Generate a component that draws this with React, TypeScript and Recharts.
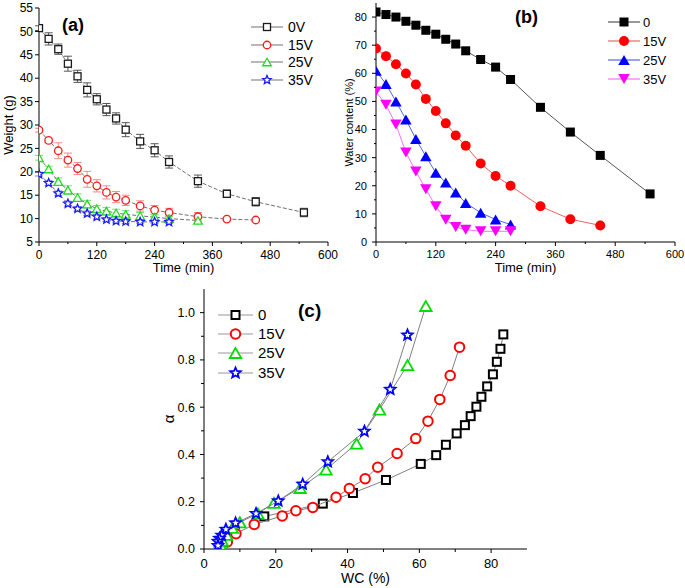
import React from 'react';
import { ScatterChart, Scatter, XAxis, YAxis, ErrorBar, Legend } from 'recharts';

const FONT = '"Liberation Sans", Arial, Helvetica, sans-serif';

// sampling times (min)
const time0V = [0, 20, 40, 60, 80, 100, 120, 140, 160, 180, 210, 240, 270, 330, 390, 450, 550];
const time15V = [0, 20, 40, 60, 80, 100, 120, 140, 160, 180, 210, 240, 270, 330, 390, 450];
const time25V = [0, 20, 40, 60, 80, 100, 120, 140, 160, 180, 210, 240, 270, 330];
const timeShort = [0, 20, 40, 60, 80, 100, 120, 140, 160, 180, 210, 240, 270];

// (a) weight (g) with error bars
const weight0V = [50.7, 48.4, 46.2, 43.1, 40.4, 37.5, 35.5, 33.3, 31.4, 29.0, 26.5, 24.6, 22.1, 18.0, 15.3, 13.6, 11.3];
const err0V = [0.5, 1.3, 1.1, 1.6, 1.3, 1.5, 1.2, 1.3, 1.2, 1.5, 1.5, 1.4, 1.3, 1.3, 0.8, 0.9, 0.9];
const weight15V = [28.9, 26.7, 24.5, 22.5, 20.7, 18.4, 17.0, 15.6, 14.6, 13.9, 12.7, 11.8, 11.3, 10.4, 9.9, 9.7];
const err15V = [0.4, 0.5, 1.7, 1.5, 1.3, 1.7, 1.3, 1.4, 1.2, 1.1, 1.1, 1.0, 0.9, 0.9, 0.3, 0.3];
const weight25V = [23.0, 20.6, 17.9, 16.1, 14.5, 13.1, 12.1, 11.6, 11.2, 10.9, 10.6, 10.3, 10.0, 9.6];
const err25V = [0.5, 0.6, 0.8, 0.9, 0.8, 0.8, 0.7, 0.8, 0.8, 0.8, 0.7, 0.6, 0.5, 0.4];
const weight35V = [19.5, 17.6, 15.4, 13.2, 12.1, 11.1, 10.4, 9.8, 9.5, 9.4, 9.3, 9.3, 9.3];
const err35V = [0.4, 0.5, 0.5, 0.5, 0.5, 0.5, 0.5, 0.4, 0.4, 0.4, 0.3, 0.3, 0.3];

// (b) water content (%)
const wc0 = [81.8, 80.9, 80.0, 78.5, 77.1, 75.3, 73.9, 72.1, 70.4, 68.0, 64.9, 62.2, 57.8, 47.9, 39.1, 30.8, 17.1];
const wc15V = [68.8, 66.1, 63.2, 59.9, 56.0, 50.9, 46.6, 42.2, 37.9, 34.2, 27.9, 23.5, 20.0, 12.7, 8.1, 5.9];
const wc25V = [60.9, 56.2, 50.0, 43.6, 36.6, 30.5, 24.6, 21.2, 17.6, 13.9, 10.4, 8.0, 6.2];
const wc35V = [53.5, 48.8, 41.8, 31.8, 25.1, 18.8, 12.7, 7.9, 5.3, 4.4, 3.8, 3.8, 3.8];

// (c) alpha vs WC (%)
const cWc0 = [83.4, 82.6, 81.6, 80.5, 78.9, 77.3, 75.9, 74.3, 72.7, 70.4, 67.4, 64.7, 60.4, 50.7, 41.5, 33.1, 16.8];
const cAlpha0 = [0.908, 0.847, 0.792, 0.739, 0.688, 0.644, 0.602, 0.562, 0.524, 0.489, 0.441, 0.397, 0.36, 0.292, 0.237, 0.192, 0.138];
const cWc15V = [71.2, 68.6, 65.7, 62.4, 59.0, 53.8, 48.4, 44.9, 40.5, 36.8, 30.3, 25.6, 21.8, 14.0, 8.9, 6.5];
const cAlpha15V = [0.854, 0.734, 0.633, 0.541, 0.467, 0.404, 0.346, 0.297, 0.256, 0.219, 0.176, 0.162, 0.14, 0.104, 0.065, 0.03];
const cWc25V = [61.8, 56.7, 48.9, 42.5, 34.0, 26.8, 19.5, 15.0, 10.0, 7.9, 6.3, 5.1, 4.5];
const cAlpha25V = [1.028, 0.778, 0.59, 0.446, 0.336, 0.258, 0.195, 0.15, 0.113, 0.089, 0.06, 0.035, 0.018];
const cWc35V = [56.7, 51.9, 44.7, 34.5, 27.5, 20.7, 14.5, 8.8, 6.1, 4.9, 4.3, 3.9, 3.9];
const cAlpha35V = [0.905, 0.675, 0.498, 0.369, 0.274, 0.203, 0.15, 0.11, 0.083, 0.058, 0.045, 0.032, 0.014];

// ticks
const timeMajor = [0, 120, 240, 360, 480, 600];
const timeMinor = [60, 180, 300, 420, 540];
const weightMajor = [5, 10, 15, 20, 25, 30, 35, 40, 45, 50, 55];
const wcMajor = [0, 10, 20, 30, 40, 50, 60, 70, 80];
const wcMinor = [5, 15, 25, 35, 45, 55, 65, 75];
const cXMajor = [0, 20, 40, 60, 80];
const cXMinor = [10, 30, 50, 70];
const alphaMajor = [0, 0.2, 0.4, 0.6, 0.8, 1.0];
const alphaMinor = [0.1, 0.3, 0.5, 0.7, 0.9];

const zip = (xs: number[], ys: number[], es?: number[]) =>
  xs.map((x, i) => ({ x, y: ys[i], err: es ? es[i] : 0 }));

type Kind = 'square' | 'circle' | 'up' | 'down' | 'star';

function Marker({ cx, cy, kind, size, stroke, fill, sw }: any) {
  const h = size / 2;
  const common = { stroke, fill, strokeWidth: sw };
  if (kind === 'square') return <rect x={cx - h} y={cy - h} width={size} height={size} {...common} />;
  if (kind === 'circle') return <circle cx={cx} cy={cy} r={h} {...common} />;
  if (kind === 'up' || kind === 'down') {
    const w = size * 1.15;
    const s = kind === 'up' ? 1 : -1;
    const pts = `${cx},${cy - s * h} ${cx - w / 2},${cy + s * h} ${cx + w / 2},${cy + s * h}`;
    return <polygon points={pts} {...common} strokeLinejoin="miter" />;
  }
  const pts: string[] = [];
  for (let i = 0; i < 10; i++) {
    const r = i % 2 === 0 ? h : h * 0.45;
    const a = -Math.PI / 2 + (i * Math.PI) / 5;
    pts.push(`${cx + r * Math.cos(a)},${cy + r * Math.sin(a)}`);
  }
  return <polygon points={pts.join(' ')} {...common} />;
}

type Side = 'bottom' | 'left' | 'top' | 'right';
const isIn = (arr: number[], v: number) => arr.some((m) => Math.abs(m - v) < 1e-6);

function makeTick(side: Side, major: number[], o: any = {}) {
  const { len = 4, minorLen = 2, gap = 2, size = 12, fmt = (v: number) => String(v) } = o;
  return (props: any) => {
    const { x, y, payload } = props;
    const v = Number(payload.value);
    const big = isIn(major, v);
    const l = big ? len : minorLen;
    const ls = { stroke: '#000', strokeWidth: 1 };
    const ts = { fill: '#000', fontSize: size, fontFamily: FONT };
    if (side === 'bottom') {
      return (
        <g>
          <line x1={x} y1={y} x2={x} y2={y + l} {...ls} />
          {big && (
            <text x={x} y={y + len + gap} dy="0.71em" textAnchor="middle" {...ts}>
              {fmt(v)}
            </text>
          )}
        </g>
      );
    }
    if (side === 'left') {
      return (
        <g>
          <line x1={x} y1={y} x2={x - l} y2={y} {...ls} />
          {big && (
            <text x={x - len - gap} y={y} dy="0.355em" textAnchor="end" {...ts}>
              {fmt(v)}
            </text>
          )}
        </g>
      );
    }
    if (side === 'top') return <line x1={x} y1={y} x2={x} y2={y + l} {...ls} />;
    return <line x1={x} y1={y} x2={x - l} y2={y} {...ls} />;
  };
}

const xTitle = (text: string, baseline: number, size: number) => (props: any) => {
  const vb = props.viewBox;
  return (
    <text x={vb.x + vb.width / 2} y={vb.y + baseline} textAnchor="middle" fontSize={size} fontFamily={FONT} fill="#000">
      {text}
    </text>
  );
};

const yTitle = (text: string, dx: number, size: number, dy = 0) => (props: any) => {
  const vb = props.viewBox;
  const cx = vb.x + dx;
  const cy = vb.y + vb.height / 2 + dy;
  return (
    <text x={cx} y={cy} dy="0.355em" transform={`rotate(-90 ${cx} ${cy})`} textAnchor="middle" fontSize={size} fontFamily={FONT} fill="#000">
      {text}
    </text>
  );
};

function frameAxes(xDom: number[], xMaj: number[], xMin: number[], yDom: number[], yMaj: number[], yMin: number[], mLen: number) {
  return [
    <XAxis
      key="top"
      xAxisId="top"
      orientation="top"
      type="number"
      domain={xDom}
      ticks={[...xMaj, ...xMin]}
      interval={0}
      allowDataOverflow
      height={0}
      tickSize={0}
      tickMargin={0}
      tickLine={false}
      axisLine={{ stroke: '#000' }}
      tick={makeTick('top', xMaj, { minorLen: mLen })}
    />,
    <YAxis
      key="right"
      yAxisId="right"
      orientation="right"
      type="number"
      domain={yDom}
      ticks={[...yMaj, ...yMin]}
      interval={0}
      allowDataOverflow
      width={0}
      tickSize={0}
      tickMargin={0}
      tickLine={false}
      axisLine={{ stroke: '#000' }}
      tick={makeTick('right', yMaj, { minorLen: mLen })}
    />,
  ];
}

type Item = { name: string; kind: Kind; color: string; fill: string; size: number; sw: number; line: string };

function Overlay({ w, h, tag, tagX, tagY, tagSize, items, rows, x1, x2, textX, fontSize, lineW }: any) {
  const cx = (x1 + x2) / 2;
  return (
    <svg width={w} height={h} style={{ display: 'block' }}>
      <text x={tagX} y={tagY} fontSize={tagSize} fontWeight="bold" fontFamily={FONT} fill="#000">
        {tag}
      </text>
      {items.map((it: Item, i: number) => (
        <g key={it.name}>
          <line x1={x1} y1={rows[i]} x2={x2} y2={rows[i]} stroke={it.line} strokeWidth={lineW} />
          <Marker cx={cx} cy={rows[i]} kind={it.kind} size={it.size} stroke={it.color} fill={it.fill} sw={it.sw} />
          <text x={textX} y={rows[i]} dy="0.355em" fontSize={fontSize} fontFamily={FONT} fill="#000">
            {it.name}
          </text>
        </g>
      ))}
    </svg>
  );
}

const seriesA = [
  { name: '0V', kind: 'square' as Kind, color: '#1a1a1a', fill: '#fff', size: 7, sw: 1.3, line: '#888', err: '#555', data: zip(time0V, weight0V, err0V) },
  { name: '15V', kind: 'circle' as Kind, color: '#ff1a1a', fill: '#fff', size: 7.5, sw: 1.3, line: '#888', err: '#f48a8a', data: zip(time15V, weight15V, err15V) },
  { name: '25V', kind: 'up' as Kind, color: '#1fdc1f', fill: '#fff', size: 7.5, sw: 1.3, line: '#888', err: '#77e077', data: zip(time25V, weight25V, err25V) },
  { name: '35V', kind: 'star' as Kind, color: '#1a1aff', fill: '#fff', size: 9, sw: 1.3, line: '#888', err: '#7a7aff', data: zip(timeShort, weight35V, err35V) },
];

const seriesB = [
  { name: '0', kind: 'square' as Kind, color: '#000', fill: '#000', size: 9, sw: 0, line: '#555', data: zip(time0V, wc0) },
  { name: '15V', kind: 'circle' as Kind, color: '#ff0000', fill: '#ff0000', size: 10, sw: 0, line: '#f06060', data: zip(time15V, wc15V) },
  { name: '25V', kind: 'up' as Kind, color: '#0000ff', fill: '#0000ff', size: 10, sw: 0, line: '#5566ee', data: zip(timeShort, wc25V) },
  { name: '35V', kind: 'down' as Kind, color: '#ff00ff', fill: '#ff00ff', size: 10, sw: 0, line: '#ee77ee', data: zip(timeShort, wc35V) },
];

const seriesC = [
  { name: '0', kind: 'square' as Kind, color: '#000', fill: '#fff', size: 8, sw: 2, line: '#999', data: zip(cWc0, cAlpha0) },
  { name: '15V', kind: 'circle' as Kind, color: '#ff0000', fill: '#fff', size: 9.5, sw: 2, line: '#999', data: zip(cWc15V, cAlpha15V) },
  { name: '25V', kind: 'up' as Kind, color: '#00dd00', fill: '#fff', size: 10, sw: 1.8, line: '#999', data: zip(cWc25V, cAlpha25V) },
  { name: '35V', kind: 'star' as Kind, color: '#0000ff', fill: '#fff', size: 11, sw: 1.8, line: '#999', data: zip(cWc35V, cAlpha35V) },
];

const shapeOf = (s: any) => (p: any) => (
  <Marker cx={p.cx} cy={p.cy} kind={s.kind} size={s.size} stroke={s.color} fill={s.fill} sw={s.sw} />
);

function PanelA() {
  return (
    <ScatterChart width={340} height={280} margin={{ top: 8, right: 12, bottom: 0, left: 0 }} style={{ fontFamily: FONT }}>
      <XAxis
        type="number"
        dataKey="x"
        domain={[0, 600]}
        ticks={[...timeMajor, ...timeMinor]}
        interval={0}
        allowDataOverflow
        height={38}
        tickSize={0}
        tickMargin={0}
        tickLine={false}
        axisLine={{ stroke: '#000' }}
        tick={makeTick('bottom', timeMajor, { gap: 4, size: 12 })}
        label={xTitle('Time (min)', 30, 13)}
      />
      <YAxis
        type="number"
        dataKey="y"
        domain={[5, 55]}
        ticks={weightMajor}
        interval={0}
        allowDataOverflow
        width={39}
        tickSize={0}
        tickMargin={0}
        tickLine={false}
        axisLine={{ stroke: '#000' }}
        tick={makeTick('left', weightMajor, { gap: 2, size: 12 })}
        label={yTitle('Weight (g)', 8, 13)}
      />
      {frameAxes([0, 600], timeMajor, timeMinor, [5, 55], weightMajor, [], 2)}
      {seriesA.map((s) => (
        <Scatter
          key={s.name}
          name={s.name}
          data={s.data}
          isAnimationActive={false}
          line={{ stroke: '#707070', strokeWidth: 1, strokeDasharray: '4 2' }}
          lineType="joint"
          shape={shapeOf(s)}
        >
          <ErrorBar dataKey="err" direction="y" width={4} stroke={s.err} strokeWidth={1} isAnimationActive={false} />
        </Scatter>
      ))}
      <Legend
        layout="vertical"
        align="center"
        verticalAlign="middle"
        wrapperStyle={{ left: 0, top: 0, width: 340, height: 280, pointerEvents: 'none' }}
        content={() => (
          <Overlay
            w={340}
            h={280}
            tag="(a)"
            tagX={62}
            tagY={31}
            tagSize={18}
            items={seriesA}
            rows={[27, 45, 62, 80]}
            x1={251}
            x2={283}
            textX={288}
            fontSize={14}
            lineW={1.2}
          />
        )}
      />
    </ScatterChart>
  );
}

function PanelB() {
  return (
    <ScatterChart width={345} height={280} margin={{ top: 3, right: 10, bottom: 0, left: 0 }} style={{ fontFamily: FONT }}>
      <XAxis
        type="number"
        dataKey="x"
        domain={[0, 600]}
        ticks={[...timeMajor, ...timeMinor]}
        interval={0}
        allowDataOverflow
        height={38}
        tickSize={0}
        tickMargin={0}
        tickLine={false}
        axisLine={{ stroke: '#000' }}
        tick={makeTick('bottom', timeMajor, { gap: 4.5, size: 11 })}
        label={xTitle('Time (min)', 30, 13)}
      />
      <YAxis
        type="number"
        dataKey="y"
        domain={[0, 85]}
        ticks={[...wcMajor, ...wcMinor]}
        interval={0}
        allowDataOverflow
        width={36}
        tickSize={0}
        tickMargin={0}
        tickLine={false}
        axisLine={{ stroke: '#000' }}
        tick={makeTick('left', wcMajor, { gap: 5, size: 11 })}
        label={yTitle('Water content (%)', 9, 11)}
      />
      {frameAxes([0, 600], timeMajor, timeMinor, [0, 85], wcMajor, wcMinor, 2)}
      {seriesB.map((s) => (
        <Scatter
          key={s.name}
          name={s.name}
          data={s.data}
          isAnimationActive={false}
          line={{ stroke: s.line, strokeWidth: 1 }}
          lineType="joint"
          shape={shapeOf(s)}
        />
      ))}
      <Legend
        layout="vertical"
        align="center"
        verticalAlign="middle"
        wrapperStyle={{ left: 0, top: 0, width: 345, height: 280, pointerEvents: 'none' }}
        content={() => (
          <Overlay
            w={345}
            h={280}
            tag="(b)"
            tagX={175}
            tagY={23}
            tagSize={18}
            items={seriesB}
            rows={[22, 41, 60, 79]}
            x1={268}
            x2={300}
            textX={303}
            fontSize={13}
            lineW={1.2}
          />
        )}
      />
    </ScatterChart>
  );
}

function PanelC() {
  return (
    <ScatterChart width={390} height={308} margin={{ top: 9, right: 13, bottom: 0, left: 0 }} style={{ fontFamily: FONT }}>
      <XAxis
        type="number"
        dataKey="x"
        domain={[0, 90]}
        ticks={[...cXMajor, ...cXMinor]}
        interval={0}
        allowDataOverflow
        height={39}
        tickSize={0}
        tickMargin={0}
        tickLine={false}
        axisLine={{ stroke: '#000' }}
        tick={makeTick('bottom', cXMajor, { gap: 5.5, size: 13, minorLen: 3 })}
        label={xTitle('WC (%)', 34, 14)}
      />
      <YAxis
        type="number"
        dataKey="y"
        domain={[0, 1.1]}
        ticks={[...alphaMajor, ...alphaMinor]}
        interval={0}
        allowDataOverflow
        width={54}
        tickSize={0}
        tickMargin={0}
        tickLine={false}
        axisLine={{ stroke: '#000' }}
        tick={makeTick('left', alphaMajor, { gap: 5, size: 12.5, minorLen: 3, fmt: (v: number) => v.toFixed(1) })}
        label={yTitle('α', 19, 15)}
      />
      {frameAxes([0, 90], cXMajor, cXMinor, [0, 1.1], alphaMajor, alphaMinor, 3)}
      {seriesC.map((s) => (
        <Scatter
          key={s.name}
          name={s.name}
          data={s.data}
          isAnimationActive={false}
          line={{ stroke: '#808080', strokeWidth: 1 }}
          lineType="joint"
          shape={shapeOf(s)}
        />
      ))}
      <Legend
        layout="vertical"
        align="center"
        verticalAlign="middle"
        wrapperStyle={{ left: 0, top: 0, width: 390, height: 308, pointerEvents: 'none' }}
        content={() => (
          <Overlay
            w={390}
            h={308}
            tag="(c)"
            tagX={148}
            tagY={37}
            tagSize={19}
            items={seriesC}
            rows={[35, 54, 73, 93]}
            x1={68}
            x2={103}
            textX={108}
            fontSize={15}
            lineW={1.2}
          />
        )}
      />
    </ScatterChart>
  );
}

export default function App() {
  return (
    <div style={{ position: 'absolute', left: 0, top: 0, width: 685, height: 588, background: '#fff', fontFamily: FONT }}>
      <div style={{ position: 'absolute', left: 0, top: 0 }}>
        <PanelA />
      </div>
      <div style={{ position: 'absolute', left: 340, top: 0 }}>
        <PanelB />
      </div>
      <div style={{ position: 'absolute', left: 150, top: 280 }}>
        <PanelC />
      </div>
    </div>
  );
}
